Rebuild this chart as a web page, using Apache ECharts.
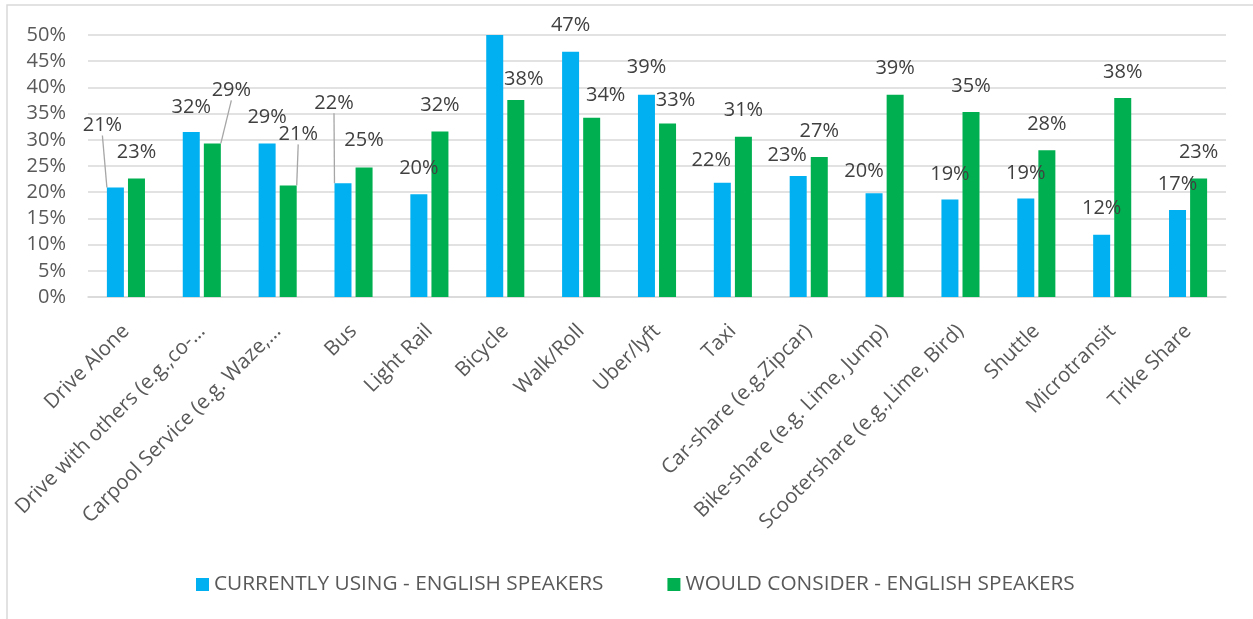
<!DOCTYPE html>
<html>
<head>
<meta charset="utf-8">
<script src="https://cdn.jsdelivr.net/npm/echarts@6/dist/echarts.min.js"></script>
<style>
html,body{margin:0;padding:0;background:#fff;}
#chart{width:1253px;height:619px;}
</style>
</head>
<body>
<div id="chart"></div>
<script>
// ---- data ----
var categories = [
  'Drive Alone', 'Drive with others (e.g.,co-…', 'Carpool Service (e.g. Waze,…',
  'Bus', 'Light Rail', 'Bicycle', 'Walk/Roll', 'Uber/lyft', 'Taxi',
  'Car-share (e.g.Zipcar)', 'Bike-share (e.g. Lime, Jump)', 'Scootershare (e.g.,Lime, Bird)',
  'Shuttle', 'Microtransit', 'Trike Share'
];
var currentlyUsing = [20.9, 31.5, 29.3, 21.7, 19.6, 50.0, 46.8, 38.6, 21.8, 23.1, 19.8, 18.6, 18.8, 11.9, 16.6];
var wouldConsider  = [22.6, 29.3, 21.3, 24.7, 31.6, 37.6, 34.2, 33.1, 30.6, 26.7, 38.6, 35.3, 28.0, 38.0, 22.6];
var seriesNames = ['CURRENTLY USING - ENGLISH SPEAKERS', 'WOULD CONSIDER - ENGLISH SPEAKERS'];
var yTicks = { min: 0, max: 50, step: 5 };

// ---- label placement (style, not data) ----
var blueLabelShift = [[-13,-36],[0,1],[0,0],[-9,-54],[0,0],[0,0],[0,0],[0,-1],[-11,4],[-11,5],[-10,4],[0,1],[0,1],[0,0],[0,0]];
var greenLabelShift = [[0,0],[19,-27],[10,-25],[0,-1],[0,0],[8,5],[14,4],[8,3],[0,0],[0,0],[0,0],[0,0],[0,0],[0,0],[0,0]];
var blueLeaders = [0, 3];
var greenLeaders = [1, 2];
var blueHiddenLabels = [5];

var FONT = 'Open Sans';
var TXT = '#595959';

function buildData(vals, leaders, hidden) {
  return vals.map(function (v, i) {
    var d = { value: v };
    if (leaders.indexOf(i) >= 0) d.labelLine = { show: true };
    if (hidden && hidden.indexOf(i) >= 0) d.label = { show: false };
    return d;
  });
}

var labelBase = {
  show: true,
  position: 'top',
  distance: 16,
  fontFamily: FONT,
  fontSize: 20,
  color: '#404040',
  formatter: function (p) { return Math.round(p.value) + '%'; }
};

var chart = echarts.init(document.getElementById('chart'), null, { renderer: 'canvas' });
chart.setOption({
  animation: false,
  backgroundColor: '#ffffff',
  graphic: [{
    type: 'rect',
    shape: { x: 7, y: 5, width: 1300, height: 700 },
    style: { fill: 'none', stroke: '#d9d9d9', lineWidth: 1.5 },
    silent: true,
    z: -10
  }],
  grid: { left: 88, right: 27, top: 35, bottom: 322, containLabel: false },
  legend: {
    left: 196,
    top: 574,
    padding: 0,
    itemWidth: 13,
    itemHeight: 13,
    itemGap: 64,
    icon: 'rect',
    textStyle: { fontFamily: FONT, fontSize: 20.8, color: TXT },
    data: seriesNames
  },
  xAxis: {
    type: 'category',
    data: categories,
    axisLine: { lineStyle: { color: '#d9d9d9', width: 1.5 } },
    axisTick: { show: false },
    axisLabel: {
      rotate: 45,
      interval: 0,
      margin: 31,
      fontFamily: FONT,
      fontSize: 20.5,
      color: TXT
    }
  },
  yAxis: {
    type: 'value',
    min: yTicks.min,
    max: yTicks.max,
    interval: yTicks.step,
    axisLine: { show: false },
    axisTick: { show: false },
    splitLine: { lineStyle: { color: '#d9d9d9', width: 1.5 } },
    axisLabel: {
      formatter: '{value}%',
      margin: 22,
      fontFamily: FONT,
      fontSize: 20,
      color: TXT
    }
  },
  series: [
    {
      name: seriesNames[0],
      type: 'bar',
      barWidth: 17,
      barGap: '24%',
      itemStyle: { color: '#00B0F0' },
      data: buildData(currentlyUsing, blueLeaders, blueHiddenLabels),
      label: labelBase,
      labelLine: { show: false, lineStyle: { color: '#a6a6a6', width: 1.3 } },
      labelLayout: function (p) {
        var s = blueLabelShift[p.dataIndex];
        return { dx: s[0], dy: s[1] };
      }
    },
    {
      name: seriesNames[1],
      type: 'bar',
      barWidth: 17,
      barGap: '24%',
      itemStyle: { color: '#00B050' },
      data: buildData(wouldConsider, greenLeaders, null),
      label: labelBase,
      labelLine: { show: false, lineStyle: { color: '#a6a6a6', width: 1.3 } },
      labelLayout: function (p) {
        var s = greenLabelShift[p.dataIndex];
        return { dx: s[0], dy: s[1] };
      }
    }
  ]
});
</script>
</body>
</html>
